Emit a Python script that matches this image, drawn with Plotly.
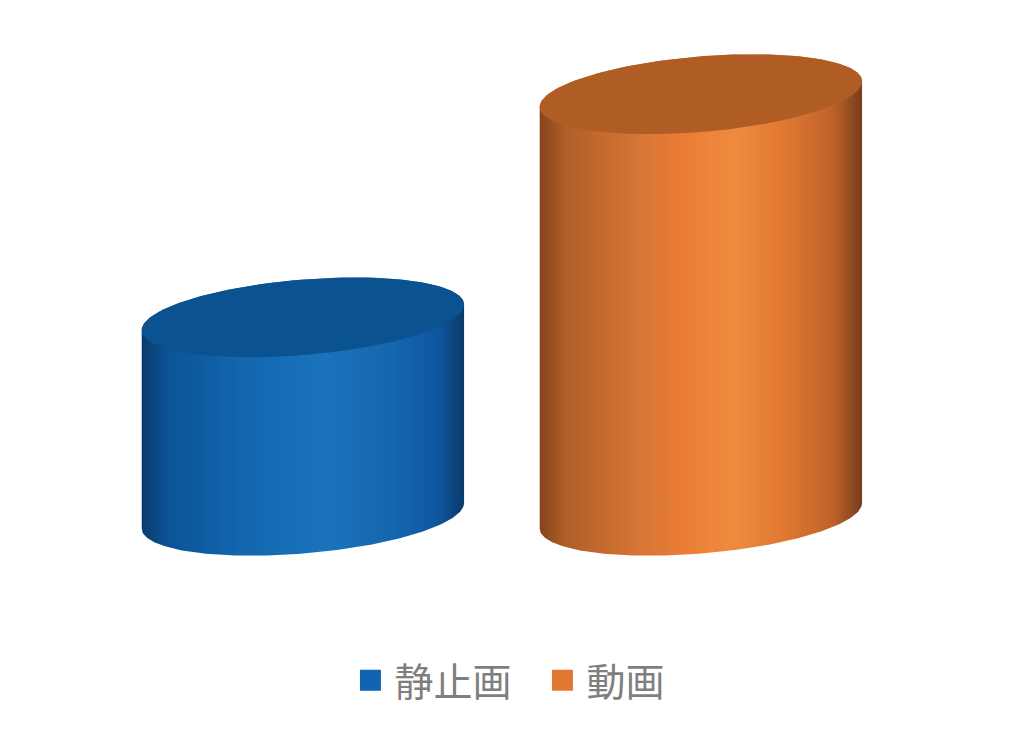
import numpy as np
import plotly.graph_objects as go

# chart data
categories = ["静止画", "動画"]
values = [32, 68]

# styling
top_colors = ["#0b5290", "#b05c25"]
legend_colors = ["#1064b0", "#e07832"]
body_scales = [
    [[0.0, "#0a3c6c"], [0.08, "#0d5295"], [0.3, "#1166ae"], [0.57, "#1b73bc"],
     [0.78, "#1466ad"], [0.92, "#0f56a0"], [1.0, "#0a3a68"]],
    [[0.0, "#86431d"], [0.08, "#b05e27"], [0.3, "#d57535"], [0.45, "#ea7d36"],
     [0.6, "#ef8b3e"], [0.76, "#e07832"], [0.91, "#be6229"], [1.0, "#773d1b"]],
]

half_w = 0.405   # cylinder radius in x units
rim = 6.1        # vertical semi-axis of the ellipses in y units
tilt = 5.1       # shear of the ellipses (y units per x unit)

theta_front = np.linspace(np.pi, 2 * np.pi, 120)
theta_back = np.linspace(0, np.pi, 120)
theta_all = np.linspace(0, 2 * np.pi, 240)


def ellipse(cx, level, th):
    dx = half_w * np.cos(th)
    return cx + dx, level + rim * np.sin(th) + tilt * dx


fig = go.Figure()

for i, (cat, val) in enumerate(zip(categories, values)):
    # body: front arc of the base, then the top arc of the lid
    bx, by = ellipse(i, 0, theta_front)
    tx, ty = ellipse(i, val, theta_back)
    fig.add_trace(go.Scatter(
        x=np.concatenate([bx, tx]), y=np.concatenate([by, ty]),
        mode="lines", fill="toself", line=dict(width=0),
        fillgradient=dict(type="horizontal", colorscale=body_scales[i]),
        showlegend=False, hoverinfo="skip"))
    # lid
    lx, ly = ellipse(i, val, theta_all)
    fig.add_trace(go.Scatter(
        x=lx, y=ly, mode="lines", fill="toself", line=dict(width=0),
        fillcolor=top_colors[i], showlegend=False,
        name=cat, text=[f"{cat}: {val}"] * len(lx), hoverinfo="text"))

# legend entries
for cat, col in zip(categories, legend_colors):
    fig.add_trace(go.Scatter(
        x=[None], y=[None], mode="markers", name=cat,
        marker=dict(symbol="square", size=16, color=col, line=dict(width=5, color=col))))

fig.update_xaxes(range=[-0.741, 1.832], visible=False, fixedrange=True)
fig.update_yaxes(range=[-37.3, 81.9], visible=False, fixedrange=True)
fig.update_layout(
    width=1024, height=739,
    margin=dict(l=0, r=0, t=0, b=0),
    paper_bgcolor="white", plot_bgcolor="white",
    legend=dict(orientation="h", x=0.518, xanchor="center", y=0.09, yanchor="middle",
                font=dict(family="Noto Sans CJK JP", size=39, color="#7f7f7f"),
                itemsizing="trace", itemwidth=38, entrywidth=139, entrywidthmode="pixels"),
)

fig.write_html("out.html")
